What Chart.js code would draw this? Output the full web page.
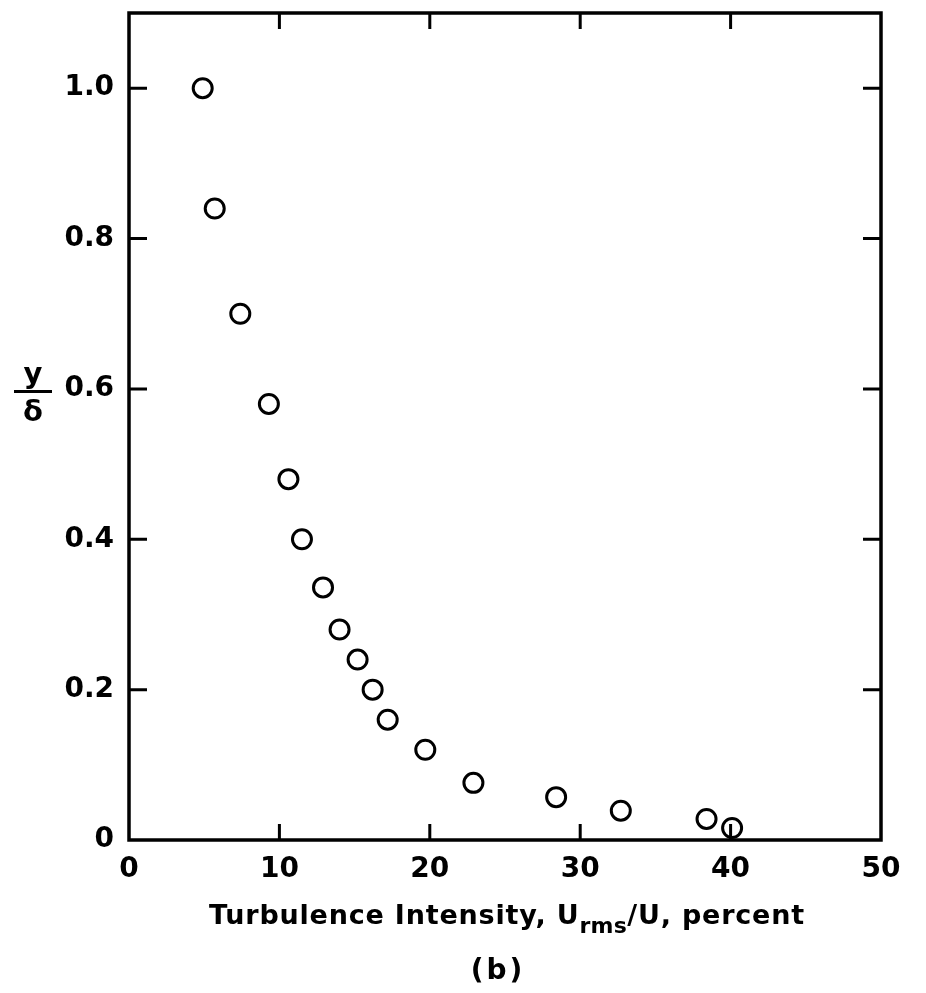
<!DOCTYPE html>
<html>
<head>
<meta charset="utf-8">
<script src="https://cdn.jsdelivr.net/npm/chart.js@4/dist/chart.umd.min.js"></script>
<style>
  html, body { margin: 0; padding: 0; background: #fff; }
  #wrap { position: relative; width: 926px; height: 993px; }
  .txt { position: absolute; font-family: 'DejaVu Sans', sans-serif; font-weight: bold; color: #000; white-space: nowrap; }
  #xlabel { left: 209px; top: 899px; font-size: 27px; letter-spacing: 0.8px; }
  #xlabel sub { font-size: 22px; vertical-align: -9px; letter-spacing: 0.3px; }
  #fig { left: 0; width: 996px; top: 953px; font-size: 28px; letter-spacing: 3px; text-align: center; }
  #ylabel { left: 14px; top: 358px; width: 38px; text-align: center; font-size: 29px; line-height: 30px; }
  #ylabel .num { border-bottom: 3px solid #000; padding-bottom: 2px; margin-bottom: 3px; }
</style>
</head>
<body>
<div id="wrap">
  <canvas id="chart" width="926" height="993"></canvas>
  <div class="txt" id="ylabel"><div class="num">y</div><div>δ</div></div>
  <div class="txt" id="xlabel">Turbulence Intensity, U<sub>rms</sub>/U, percent</div>
  <div class="txt" id="fig">(b)</div>
</div>
<script>
// turbulence intensity (percent) and y/δ
const intensity = [4.9, 5.7, 7.4, 9.3, 10.6, 11.5, 12.9, 14.0, 15.2, 16.2, 17.2, 19.7, 22.9, 28.4, 32.7, 38.4, 40.1]
const yOverDelta = [1.0, 0.84, 0.70, 0.58, 0.48, 0.40, 0.336, 0.28, 0.24, 0.20, 0.16, 0.12, 0.076, 0.057, 0.039, 0.028, 0.016]

const xTicks = [0, 10, 20, 30, 40, 50]
const xTickLabels = ['0', '10', '20', '30', '40', '50']
const yTicks = [0, 0.2, 0.4, 0.6, 0.8, 1.0]
const yTickLabels = ['0', '0.2', '0.4', '0.6', '0.8', '1.0']

const tickFont = { family: 'DejaVu Sans', size: 28, weight: 'bold' }

// frame plus inward tick marks on all four sides
const framePlugin = {
    id: 'frame',
    afterDraw(chart) {
        const { ctx, chartArea: a, scales } = chart
        ctx.save()
        ctx.strokeStyle = '#000'
        ctx.lineWidth = 3.5
        ctx.strokeRect(a.left, a.top, a.right - a.left, a.bottom - a.top)
        ctx.lineWidth = 3
        ctx.beginPath()
        xTicks.slice(1, -1).forEach(v => {
            const px = scales.x.getPixelForValue(v)
            ctx.moveTo(px, a.bottom); ctx.lineTo(px, a.bottom - 16)
            ctx.moveTo(px, a.top); ctx.lineTo(px, a.top + 16)
        })
        yTicks.slice(1).forEach(v => {
            const py = scales.y.getPixelForValue(v)
            ctx.moveTo(a.left, py); ctx.lineTo(a.left + 18, py)
            ctx.moveTo(a.right, py); ctx.lineTo(a.right - 18, py)
        })
        ctx.stroke()
        ctx.restore()
    }
}

const ctx = document.getElementById('chart').getContext('2d')
new Chart(ctx, {
    type: 'scatter',
    data: {
        datasets: [{
            data: intensity.map((x, i) => ({ x: x, y: yOverDelta[i] })),
            pointStyle: 'circle',
            pointRadius: 9.5,
            pointBorderWidth: 3,
            pointBorderColor: '#000',
            pointBackgroundColor: '#fff',
            showLine: false
        }]
    },
    options: {
        responsive: false,
        animation: false,
        devicePixelRatio: 1,
        layout: { padding: { top: 13, right: 45, left: 0, bottom: 0 } },
        plugins: {
            legend: { display: false },
            tooltip: { enabled: false }
        },
        scales: {
            x: {
                type: 'linear',
                min: 0,
                max: 50,
                grid: { display: false },
                border: { display: false },
                afterBuildTicks: s => { s.ticks = xTicks.map(v => ({ value: v })) },
                afterFit: s => { s.height = 153; s.paddingLeft = 0; s.paddingRight = 0 },
                ticks: {
                    autoSkip: false,
                    maxRotation: 0,
                    padding: 5,
                    color: '#000',
                    font: tickFont,
                    callback: (v) => xTickLabels[xTicks.indexOf(v)]
                }
            },
            y: {
                type: 'linear',
                min: 0,
                max: 1.1,
                grid: { display: false },
                border: { display: false },
                afterBuildTicks: s => { s.ticks = yTicks.map(v => ({ value: v })) },
                afterFit: s => { s.width = 129; s.paddingTop = 0; s.paddingBottom = 0 },
                ticks: {
                    padding: 7,
                    color: '#000',
                    font: tickFont,
                    callback: (v) => yTickLabels[yTicks.indexOf(v)]
                }
            }
        }
    },
    plugins: [framePlugin]
})
</script>
</body>
</html>
